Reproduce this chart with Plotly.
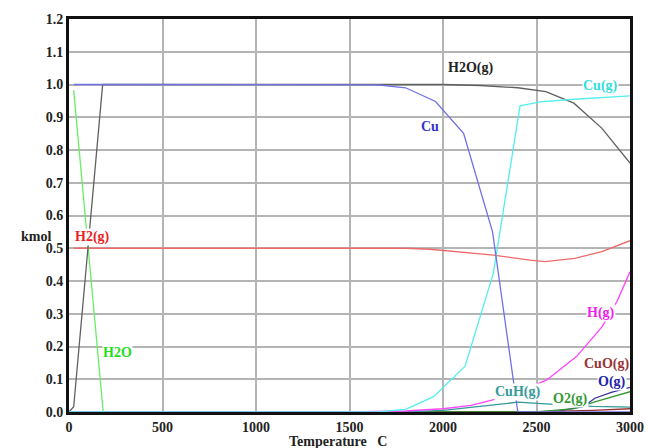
import plotly.graph_objects as go

# ---- data (Temperature in C, amounts in kmol) ----
h2o_g_T = [0, 25, 180, 1400, 2000, 2200, 2400, 2550, 2700, 2850, 3000]
h2o_g_v = [0.0, 0.016, 1.0, 1.0, 1.0, 0.997, 0.99, 0.978, 0.943, 0.866, 0.76]

cu_T = [25, 1400, 1650, 1800, 1960, 2110, 2265, 2400, 3000]
cu_v = [1.0, 1.0, 0.999, 0.99, 0.948, 0.851, 0.55, 0.0, 0.0]

cug_T = [0, 1650, 1800, 1950, 2118, 2269, 2412, 2520, 2700, 3000]
cug_v = [0.0, 0.0, 0.008, 0.047, 0.14, 0.423, 0.935, 0.947, 0.955, 0.965]

h2g_T = [25, 1800, 1930, 2270, 2465, 2545, 2705, 2850, 3000]
h2g_v = [0.5, 0.5, 0.497, 0.479, 0.464, 0.459, 0.469, 0.49, 0.523]

h2o_l_T = [25, 183]
h2o_l_v = [0.983, 0.0]

hg_T = [0, 1500, 1800, 2000, 2150, 2320, 2450, 2555, 2715, 2850, 2930, 3000]
hg_v = [0.0, 0.0, 0.003, 0.01, 0.02, 0.045, 0.072, 0.098, 0.17, 0.26, 0.337, 0.428]

cuh_T = [0, 1800, 2000, 2200, 2400, 2550, 2800, 3000]
cuh_v = [0.0, 0.0, 0.005, 0.018, 0.03, 0.025, 0.017, 0.015]

o2_T = [0, 2500, 2700, 2812, 3000]
o2_v = [0.0, 0.0, 0.01, 0.031, 0.062]

o_T = [0, 2600, 2750, 2812, 2900, 3000]
o_v = [0.0, 0.001, 0.016, 0.042, 0.06, 0.075]

cuo_T = [0, 2500, 2800, 3000]
cuo_v = [0.0, 0.001, 0.005, 0.01]

x_ticks = [0, 500, 1000, 1500, 2000, 2500, 3000]
y_ticks = [0.0, 0.1, 0.2, 0.3, 0.4, 0.5, 0.6, 0.7, 0.8, 0.9, 1.0, 1.1, 1.2]

series = [
    ("O(g)", o_T, o_v, "#333399"),
    ("CuO(g)", cuo_T, cuo_v, "#993333"),
    ("O2(g)", o2_T, o2_v, "#339933"),
    ("CuH(g)", cuh_T, cuh_v, "#339999"),
    ("H(g)", hg_T, hg_v, "#ff44ff"),
    ("H2(g)", h2g_T, h2g_v, "#ee6a6a"),
    ("H2O", h2o_l_T, h2o_l_v, "#66ee66"),
    ("H2O(g)", h2o_g_T, h2o_g_v, "#606060"),
    ("Cu(g)", cug_T, cug_v, "#55eeee"),
    ("Cu", cu_T, cu_v, "#7070e8"),
]

fig = go.Figure()
for name, xs, ys, col in series:
    fig.add_trace(go.Scatter(x=xs, y=ys, mode="lines", name=name,
                             line=dict(color=col, width=1.3), showlegend=False))

labels = [
    ("H2O(g)", 2145, 1.05, "#222222"),
    ("Cu", 1930, 0.873, "#3333cc"),
    ("Cu(g)", 2840, 0.995, "#33dddd"),
    ("H2(g)", 128, 0.534, "#ee2222"),
    ("H2O", 262, 0.183, "#22dd22"),
    ("H(g)", 2845, 0.302, "#ee22ee"),
    ("CuO(g)", 2872, 0.147, "#993333"),
    ("O(g)", 2904, 0.092, "#2222aa"),
    ("CuH(g)", 2401, 0.061, "#339999"),
    ("O2(g)", 2680, 0.04, "#339933"),
]
for txt, x, y, col in labels:
    fig.add_annotation(x=x, y=y, text="<b>%s</b>" % txt, showarrow=False,
                       font=dict(family="Liberation Serif", size=14, color=col),
                       bgcolor="white", borderpad=0)

fig.add_annotation(x=-0.09, xref="paper", y=0.535, yref="y", text="<b>kmol</b>",
                   showarrow=False, font=dict(family="Liberation Serif", size=14, color="#222"))
fig.add_annotation(x=0.48, xref="paper", y=-0.075, yref="paper", yanchor="middle",
                   text="<b>Temperature   C</b>", showarrow=False,
                   font=dict(family="Liberation Serif", size=14, color="#222"))

fig.update_layout(
    width=648, height=448,
    margin=dict(l=69, r=18, t=19, b=36),
    paper_bgcolor="white", plot_bgcolor="white",
    font=dict(family="Liberation Serif", size=14, color="#222"),
)
fig.update_xaxes(range=[0, 3000], tickvals=x_ticks, ticktext=["<b>%d</b>" % v for v in x_ticks],
                 showgrid=True, gridcolor="#b4b4b4", gridwidth=1.5, automargin=False,
                 showline=True, linecolor="#111", linewidth=3, mirror=True,
                 ticks="", zeroline=False)
fig.update_yaxes(range=[0, 1.2], tickvals=y_ticks, ticktext=["<b>%.1f</b>" % v for v in y_ticks],
                 showgrid=True, gridcolor="#b4b4b4", gridwidth=1.5, automargin=False,
                 showline=True, linecolor="#111", linewidth=3, mirror=True,
                 ticks="", zeroline=False)

fig.write_html("out.html")
